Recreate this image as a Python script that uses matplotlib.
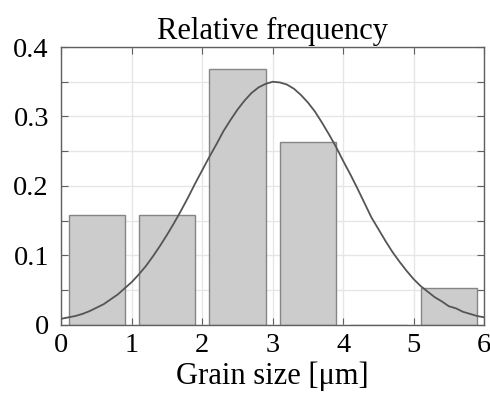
import matplotlib
matplotlib.use("Agg")
import matplotlib.pyplot as plt
from matplotlib.ticker import MultipleLocator

# histogram: bins 0-1, 1-2, ... 5-6
bin_left = [0, 1, 2, 3, 4, 5]
rel_freq = [0.158, 0.158, 0.368, 0.263, 0.0, 0.053]

# fitted curve
curve_x = [0.0, 0.1, 0.2, 0.3, 0.4, 0.5, 0.6, 0.7, 0.8, 0.9,
           1.0, 1.1, 1.2, 1.3, 1.4, 1.5, 1.6, 1.7, 1.8, 1.9,
           2.0, 2.1, 2.2, 2.3, 2.4, 2.5, 2.6, 2.7, 2.8, 2.9,
           3.0, 3.1, 3.2, 3.3, 3.4, 3.5, 3.6, 3.7, 3.8, 3.9,
           4.0, 4.1, 4.2, 4.3, 4.4, 4.5, 4.6, 4.7, 4.8, 4.9,
           5.0, 5.1, 5.2, 5.3, 5.4, 5.5, 5.6, 5.7, 5.8, 5.9, 6.0]
curve_y = [0.009, 0.011, 0.013, 0.016, 0.020, 0.025, 0.030, 0.037, 0.044, 0.053,
           0.062, 0.073, 0.085, 0.099, 0.114, 0.130, 0.147, 0.165, 0.184, 0.204,
           0.223, 0.242, 0.260, 0.279, 0.295, 0.310, 0.323, 0.334, 0.342, 0.347,
           0.350, 0.349, 0.346, 0.340, 0.331, 0.320, 0.307, 0.291, 0.274, 0.256,
           0.236, 0.217, 0.197, 0.176, 0.155, 0.138, 0.121, 0.105, 0.091, 0.078,
           0.066, 0.056, 0.048, 0.040, 0.034, 0.027, 0.024, 0.019, 0.016, 0.013, 0.011]

plt.rcParams['font.family'] = ['Liberation Serif', 'DejaVu Serif']

fig = plt.figure(figsize=(4.9, 3.99), dpi=100)
ax = fig.add_axes([0.1255, 0.1855, 0.8623, 0.6967])

ax.bar([b + 0.5 for b in bin_left], rel_freq, width=0.8,
       color='#cccccc', edgecolor='#858585', linewidth=1.0, zorder=2)
ax.plot(curve_x, curve_y, color='#555555', linewidth=1.3, zorder=3)

ax.set_xlim(0, 6)
ax.set_ylim(0, 0.4)
ax.xaxis.set_major_locator(MultipleLocator(1))
ax.yaxis.set_minor_locator(MultipleLocator(0.05))
ax.set_yticks([0, 0.1, 0.2, 0.3, 0.4])
ax.set_yticklabels(['0', '0.1', '0.2', '0.3', '0.4'])

ax.grid(True, which='both', color='#e6e6e6', linewidth=1.0, zorder=0)
ax.set_axisbelow(True)
ax.tick_params(which='both', direction='in', top=True, right=True,
               length=5, width=0.8, color='#606060', labelsize=20.5)
ax.tick_params(axis='x', pad=6)
ax.tick_params(axis='y', pad=9)

for s in ax.spines.values():
    s.set_color('#606060')
    s.set_linewidth(1.0)

ax.set_title('Relative frequency', fontsize=22, pad=6)
ax.set_xlabel('Grain size [μm]', fontsize=22, labelpad=2)

fig.savefig('out.png', dpi=100)
